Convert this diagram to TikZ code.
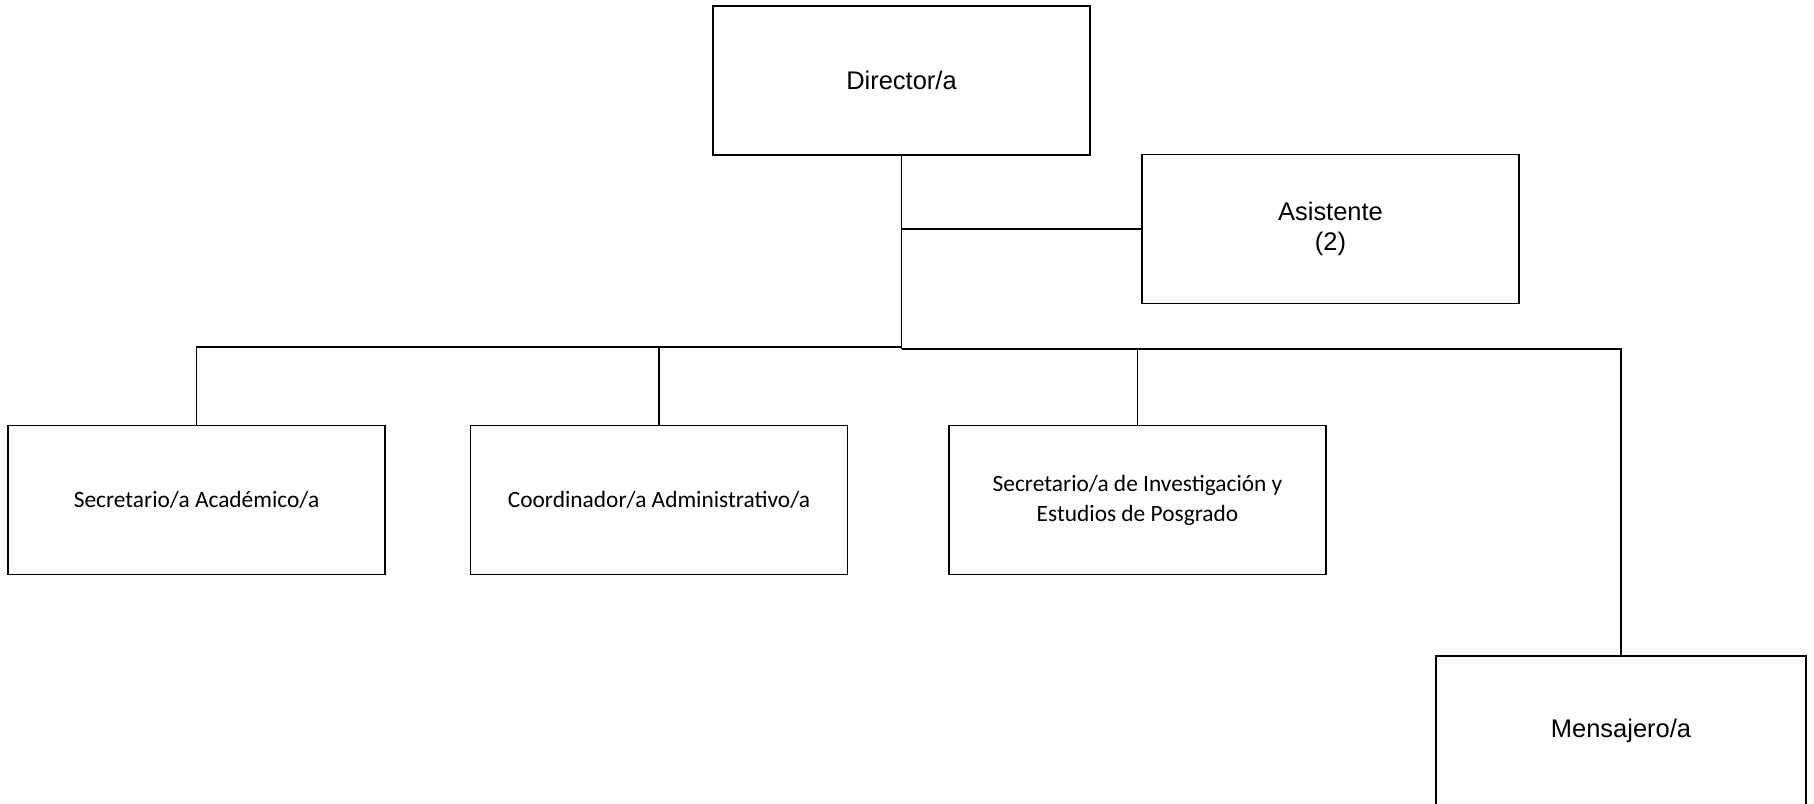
\documentclass[tikz,border=0pt]{standalone}
\usepackage{fontspec}
\setmainfont{Liberation Sans}
\newfontfamily\calfont{Carlito}
\usepackage{tikz}
\usetikzlibrary{positioning}

\begin{document}
\begin{tikzpicture}[
  box/.style={draw, line width=0.7pt, minimum width=7.54cm, minimum height=2.98cm, inner sep=0pt, align=center},
  arial/.style={font=\fontsize{14.5}{17.5}\selectfont},
  cal/.style={font=\calfont\fontsize{13.3}{17}\selectfont},
  conn/.style={line width=0.6pt}
]
  \useasboundingbox (0,0) rectangle (36.28,-16.08);
  \node[box, arial] (dir)    at (18.03,-1.61)  {Director/a};
  \node[box, arial] (asis)   at (26.61,-4.58)  {Asistente\\(2)};
  \node[box, cal]   (seca)   at (3.93,-10.0)   {Secretario/a Académico/a};
  \node[box, cal]   (coord)  at (13.18,-10.0)  {Coordinador/a Administrativo/a};
  \node[box, cal]   (secinv) at (22.75,-10.0)  {Secretario/a de Investigación y\\Estudios de Posgrado};
  \node[box, arial, minimum width=7.4cm] (mens) at (32.42,-14.61) {Mensajero/a};
  \coordinate (jl) at (18.03,-6.94);
  \coordinate (jr) at (18.03,-6.98);
  \path[conn]
  (dir.south) edge (jr)
  (asis.west) edge (asis.west -| dir.south)
  (seca.north) edge[to path={|- (\tikztotarget)}] (jl)
  (coord.north) edge (coord.north |- jl)
  (jr) edge[to path={-| (\tikztotarget)}] (mens.north)
  (secinv.north) edge (secinv.north |- jr)
  ;
\end{tikzpicture}
\end{document}
